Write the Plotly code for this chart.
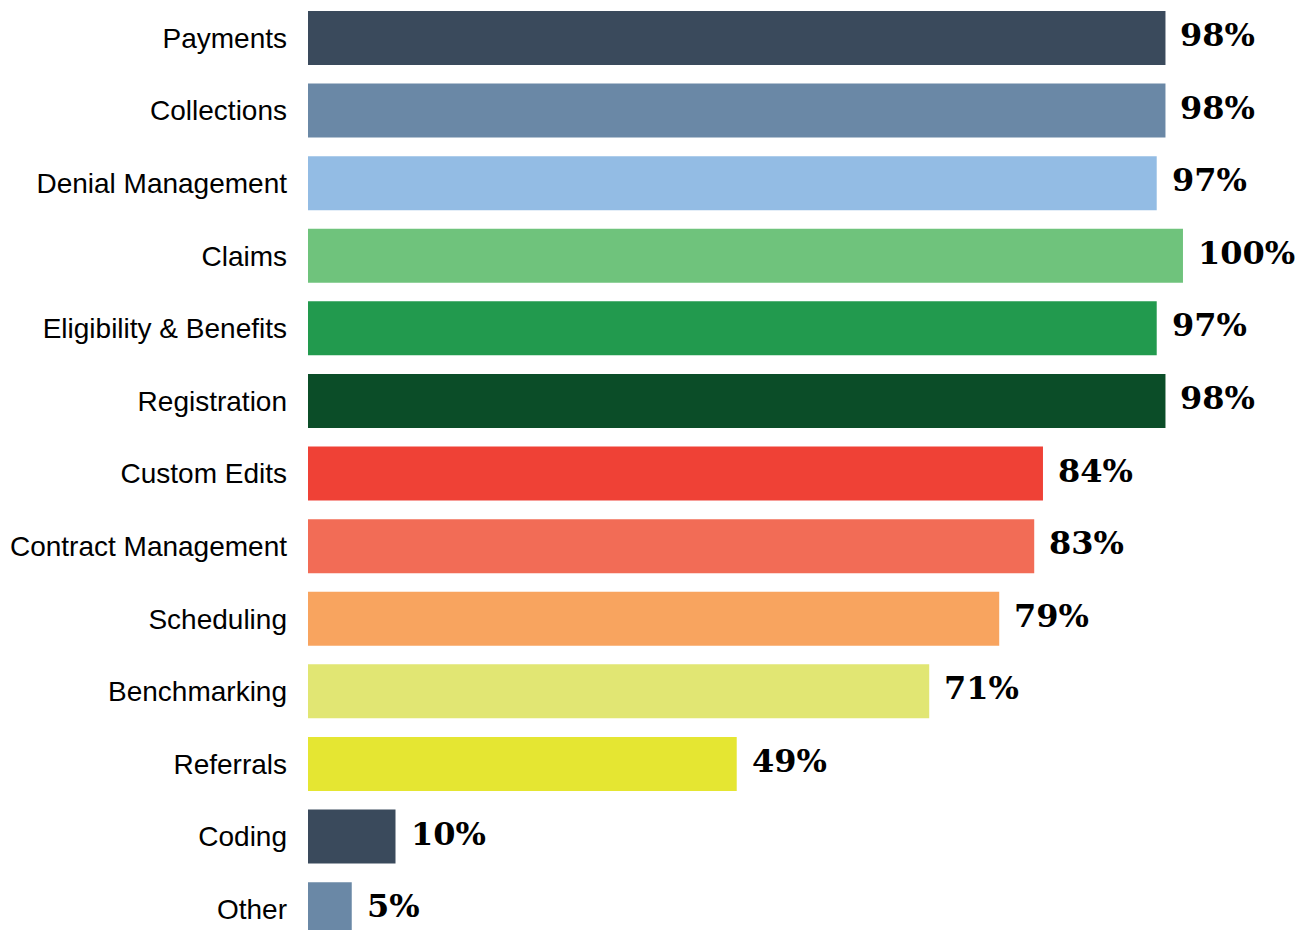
import plotly.graph_objects as go

categories = [
    "Payments", "Collections", "Denial Management", "Claims",
    "Eligibility & Benefits", "Registration", "Custom Edits",
    "Contract Management", "Scheduling", "Benchmarking",
    "Referrals", "Coding", "Other",
]
values = [98, 98, 97, 100, 97, 98, 84, 83, 79, 71, 49, 10, 5]
colors = [
    "#3a4a5c", "#6a88a6", "#93bce4", "#6fc37c", "#229a4e", "#0b4d28",
    "#ef4136", "#f26c56", "#f8a45f", "#e1e673", "#e5e632",
    "#3a4a5c", "#6a88a6",
]
value_labels = [f"{v}%" for v in values]

fig = go.Figure(
    go.Bar(
        x=values,
        y=categories,
        orientation="h",
        marker=dict(color=colors, line=dict(width=0)),
        hoverinfo="skip",
    )
)

for cat, v, lab in zip(categories, values, value_labels):
    fig.add_annotation(
        x=v, y=cat, text=f"<b>{lab}</b>", showarrow=False,
        xanchor="left", yanchor="middle", xshift=13, yshift=3,
        font=dict(family="DejaVu Serif, Georgia, serif", size=32, color="#000000"),
    )

fig.update_layout(
    width=1315, height=930,
    margin=dict(l=308, r=0, t=0, b=0),
    paper_bgcolor="white", plot_bgcolor="white",
    bargap=0.256,
    showlegend=False,
    xaxis=dict(range=[0, 115.09], visible=False, fixedrange=True),
    yaxis=dict(
        type="category",
        range=[12.287, -0.523],
        showgrid=False, zeroline=False, showline=False, ticks="",
        ticklabelstandoff=20,
        tickfont=dict(family="Liberation Sans, Arial, sans-serif", size=28, color="#000000"),
        fixedrange=True,
    ),
)

fig.write_html("out.html")
